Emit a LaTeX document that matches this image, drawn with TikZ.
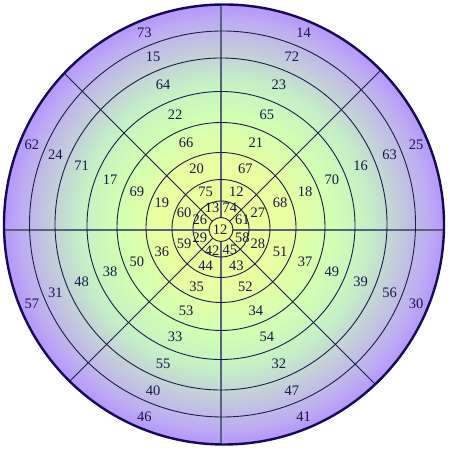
\documentclass[tikz,border=0pt]{standalone}
\usepackage{fontspec}
\setmainfont{Liberation Serif}
\usetikzlibrary{calc}
\definecolor{tbink}{HTML}{17174A}
\definecolor{tbring}{HTML}{1C1C4E}
\definecolor{tbaxis}{HTML}{56627E}
\definecolor{tbedge}{HTML}{15095A}
\definecolor{tbyellow}{HTML}{F2FF96}
\definecolor{tblemon}{HTML}{E8FFA0}
\definecolor{tblime}{HTML}{D0FFB4}
\definecolor{tbmint}{HTML}{C6EEC6}
\definecolor{tbgrey}{HTML}{C2CADC}
\definecolor{tblilac}{HTML}{BEAEF0}
\definecolor{tbviolet}{HTML}{B696FC}
\pgfdeclareradialshading{tbglow}{\pgfpoint{0bp}{0bp}}{%
  color(0bp)=(tbyellow); color(7.5bp)=(tblemon); color(12.5bp)=(tblime);
  color(16.5bp)=(tbmint); color(20bp)=(tbgrey); color(23bp)=(tblilac);
  color(25bp)=(tbviolet); color(50bp)=(tbviolet)}
\tikzset{
  tb ring/.style={draw=tbring, line width=0.9pt},
  tb axis/.style={draw=tbaxis, line width=1.8pt},
  tb diag/.style={draw=tbring, line width=0.8pt},
  tb edge/.style={draw=tbedge, line width=2.4pt},
  tb num/.style={font=\fontsize{14.5}{16}\selectfont, text=tbink, inner sep=0pt}
}

\begin{document}
\begin{tikzpicture}[x=1pt, y=1pt]
  \useasboundingbox (0,0) rectangle (449,449);
  \coordinate (O) at (221,219);
  \coordinate (E) at (224,224.5);
  \shade[shading=tbglow] (E) circle (220);
  % spokes
  \begin{scope}
    \clip (E) circle (220);
    \foreach \a in {0,90,180,270}
      \draw[tb axis] ($(O)+(\a:12)$) -- ($(O)+(\a:240)$);
    \foreach \a in {45,135,225,315}
      \draw[tb diag] ($(O)+(\a:12)$) -- ($(O)+(\a:240)$);
  \end{scope}
  % rings, each a little off the spoke centre
  \foreach \r/\dx/\dy in {12/0/0.5, 28/0/1, 49/0/1.5, 75/0/2.5,
      104/0/3.5, 134/0/4.5, 166/0/6, 193/1.5/6}
    \draw[tb ring] ($(O)+(\dx,\dy)$) circle (\r);
  \draw[tb edge] (E) circle (220);
  % numbers, one list per ring, counter-clockwise from the east
  \node[tb num] (n0) at ($(O)+(-1,0)$) {12};
  \foreach \r/\dx/\dy/\list [count=\i] in {
      23/0/1/{61,74,13,26,29,42,45,58},
      40/0/1.5/{27,12,75,60,59,44,43,28},
      64/0/2.5/{68,67,20,19,36,35,52,51},
      91/0/3.5/{18,21,66,69,50,53,34,37},
      120/0/4.5/{70,65,22,17,38,33,54,49},
      151/0/6/{16,23,64,71,48,55,32,39},
      181/1.5/6/{63,72,15,24,31,40,47,56},
      208/3/5.5/{25,14,73,62,57,46,41,30}} {
    \foreach \t [count=\k] in \list
      \node[tb num] (n\i-\k) at ($(O)+(\dx,\dy)+(\k*45-22.5:\r)$) {\t};
  }
\end{tikzpicture}
\end{document}
